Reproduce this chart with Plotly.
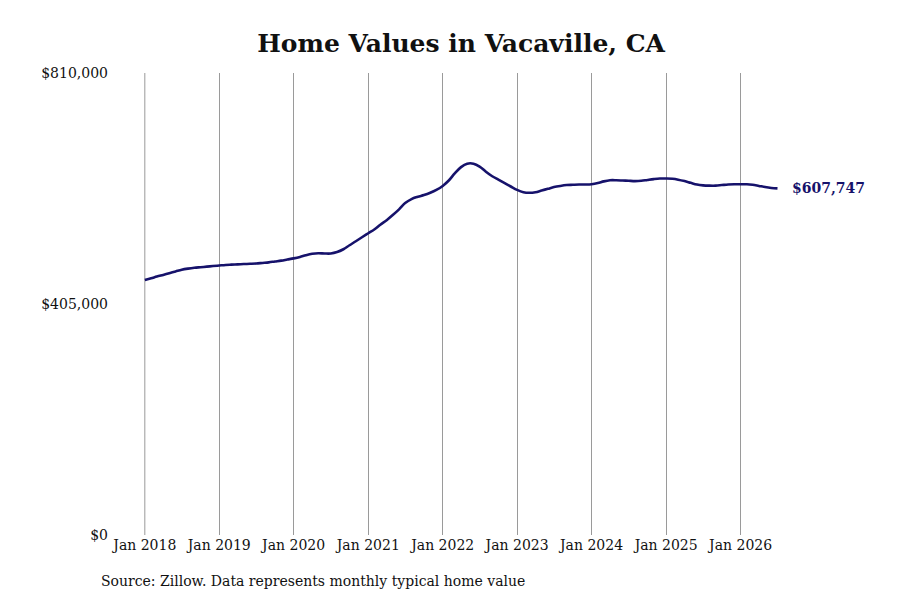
import pandas as pd
import plotly.graph_objects as go

# Monthly typical home value, Vacaville CA
months = pd.date_range("2018-01-01", "2026-07-01", freq="MS")
values = [
    447000, 450000, 453000, 456000, 459000, 462000, 465000, 467000, 468500, 469500, 470500, 471500,
    472500, 473500, 474000, 474500, 475000, 475500, 476000, 477000, 478000, 479500, 481000, 483000,
    485000, 487500, 490500, 493000, 494000, 493500, 493500, 496000, 501000, 508000, 515000, 522000,
    529000, 536000, 544000, 552000, 561000, 571000, 582000, 589000, 593000, 596000, 600000, 605000,
    612000, 622000, 634000, 645000, 651000, 651000, 646000, 637000, 629000, 623000, 617000, 611000,
    605000, 601000, 600000, 601000, 604000, 607000, 610000, 612000, 613500, 614000, 614500, 614500,
    615000, 617000, 620000, 622000, 622000, 621500, 621000, 620500, 621000, 622500, 624000, 625000,
    625000, 624500, 623000, 620500, 617500, 614500, 613000, 612500, 612500, 613500, 614500, 615000,
    615000, 615000, 614000, 612000, 610000, 608500, 607747,
]

tick_dates = pd.date_range("2018-01-01", "2026-01-01", freq="YS")
tick_labels = [d.strftime("Jan %Y") for d in tick_dates]
y_ticks = [0, 405000, 810000]
y_labels = ["$0", "$405,000", "$810,000"]

LINE_COLOR = "#16126b"
GRID_COLOR = "#9a9a9a"
FONT = "DejaVu Serif"

fig = go.Figure()
fig.add_trace(go.Scatter(
    x=months, y=values, mode="lines",
    line=dict(color=LINE_COLOR, width=2.6, shape="spline"),
    hovertemplate="%{x|%b %Y}<br>$%{y:,.0f}<extra></extra>",
))

# plotly drops the gridline sitting on the left edge, so draw that one by hand
fig.add_shape(
    type="line", x0=tick_dates[0], x1=tick_dates[0], y0=0, y1=1, yref="paper",
    line=dict(color=GRID_COLOR, width=1), layer="below",
)

# value label at the end of the line
fig.add_annotation(
    x=months[-1], y=values[-1], text=f"<b>${values[-1]:,}</b>",
    showarrow=False, xanchor="left", xshift=13,
    font=dict(family=FONT, size=14, color=LINE_COLOR),
)

fig.add_annotation(
    x=-0.067, y=-0.1, xref="paper", yref="paper", xanchor="left", yanchor="middle",
    text="Source: Zillow. Data represents monthly typical home value",
    showarrow=False, font=dict(family=FONT, size=14, color="#111111"),
)

# page body has an 8px margin, so the figure is sized 892x592
fig.update_layout(
    width=892, height=592,
    paper_bgcolor="white", plot_bgcolor="white",
    font=dict(family=FONT, size=14, color="#111111"),
    title=dict(text="<b>Home Values in Vacaville, CA</b>", x=0.508, y=0.941,
               xanchor="center", yanchor="middle",
               font=dict(family=FONT, size=25, color="#111111")),
    margin=dict(l=136, r=85, t=65, b=65, autoexpand=False),
    showlegend=False,
    xaxis=dict(
        range=[pd.Timestamp("2017-12-28"), pd.Timestamp("2027-01-01")],
        tickvals=tick_dates, ticktext=tick_labels,
        showgrid=True, gridcolor=GRID_COLOR, gridwidth=1,
        zeroline=False, showline=False, ticks="", automargin=False,
    ),
    yaxis=dict(
        range=[0, 810000], tickvals=y_ticks, ticktext=y_labels,
        showgrid=False, zeroline=False, showline=False, ticks="",
        ticklabelstandoff=35, automargin=False,
    ),
)

fig.write_html("out.html")
